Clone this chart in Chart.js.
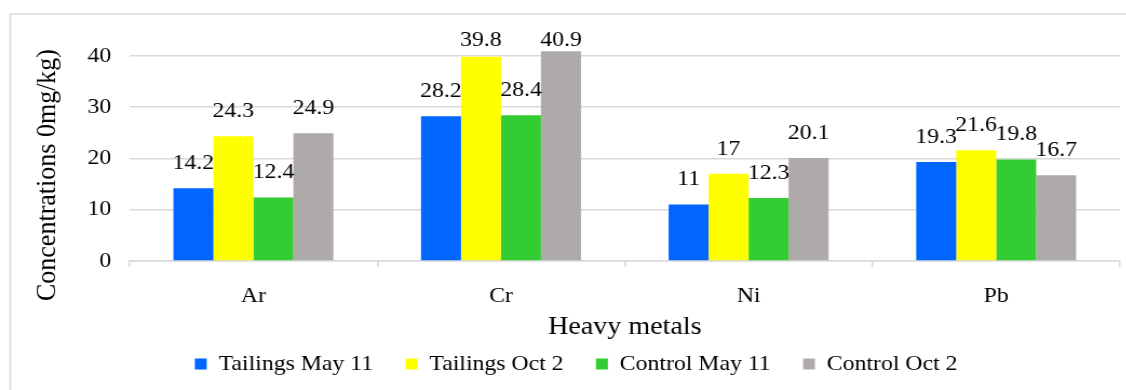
<!DOCTYPE html>
<html>
<head>
<meta charset="utf-8">
<script src="https://cdn.jsdelivr.net/npm/chart.js@4/dist/chart.umd.min.js"></script>
<style>
  html, body { margin: 0; padding: 0; background: #fff; overflow: hidden; }
  /* the drawing is laid out a little narrower and widened back to 1126px */
  #wrap { width: 1043px; height: 390px; transform: scaleX(1.08); transform-origin: 0 0; }
  canvas { display: block; }
</style>
</head>
<body>
<div id="wrap"><canvas id="chart" width="1043" height="390"></canvas></div>
<script>
// Heavy metal concentrations (mg/kg) at tailings and control sites
const metals = ['Ar', 'Cr', 'Ni', 'Pb'];
const tailingsMay11 = [14.2, 28.2, 11, 19.3];
const tailingsOct2 = [24.3, 39.8, 17, 21.6];
const controlMay11 = [12.4, 28.4, 12.3, 19.8];
const controlOct2 = [24.9, 40.9, 20.1, 16.7];
const yTicks = [0, 10, 20, 30, 40];
const seriesNames = ['Tailings May 11', 'Tailings Oct 2', 'Control May 11', 'Control Oct 2'];
const yTitle = 'Concentrations 0mg/kg)';
const xTitle = 'Heavy metals';

const seriesColors = ['#0066FF', '#FFFF00', '#33CC33', '#AEAAAA'];
const SERIF = '"Liberation Serif", "Times New Roman", serif';
const GRID = '#D9D9D9';

// white page with the light grey frame around the figure
const frame = {
  id: 'frame',
  beforeDraw(chart) {
    const ctx = chart.ctx;
    ctx.save();
    ctx.fillStyle = '#fff';
    ctx.fillRect(0, 0, chart.width, chart.height);
    ctx.strokeStyle = GRID;
    ctx.lineWidth = 1.5;
    ctx.strokeRect(9.5, 14, 1100, 500);
    ctx.restore();
  }
};

// value written above every bar
const valueLabels = {
  id: 'valueLabels',
  afterDatasetsDraw(chart) {
    const ctx = chart.ctx;
    ctx.save();
    ctx.font = '22px ' + SERIF;
    ctx.fillStyle = '#000';
    ctx.textAlign = 'center';
    ctx.textBaseline = 'middle';
    chart.data.datasets.forEach((ds, i) => {
      chart.getDatasetMeta(i).data.forEach((bar, j) => {
        const y = Math.max(bar.y - 25, 40);
        ctx.fillText(String(ds.data[j]), bar.x, y);
      });
    });
    ctx.restore();
  }
};

// axis titles
const axisTitles = {
  id: 'axisTitles',
  afterDraw(chart) {
    const ctx = chart.ctx;
    const a = chart.chartArea;
    ctx.save();
    ctx.fillStyle = '#000';
    ctx.textAlign = 'center';
    ctx.textBaseline = 'middle';
    ctx.font = '26px ' + SERIF;
    ctx.fillText(xTitle, (a.left + a.right) / 2, 327);
    ctx.translate(44, 175);
    ctx.rotate(-Math.PI / 2);
    ctx.fillText(yTitle, 0, 0);
    ctx.restore();
  }
};

const seriesData = [tailingsMay11, tailingsOct2, controlMay11, controlOct2];

new Chart(document.getElementById('chart'), {
  type: 'bar',
  data: {
    labels: metals,
    datasets: seriesData.map((values, i) => ({
      label: seriesNames[i],
      data: values,
      backgroundColor: seriesColors[i],
      borderWidth: 0,
      barPercentage: 1,
      categoryPercentage: 0.646
    }))
  },
  options: {
    responsive: false,
    devicePixelRatio: 1,
    animation: false,
    layout: { padding: { left: 30, right: 6, top: 27, bottom: 5 } },
    plugins: {
      legend: {
        position: 'bottom',
        labels: {
          boxWidth: 11,
          boxHeight: 11,
          padding: 30,
          color: '#000',
          font: { family: SERIF, size: 22 }
        }
      },
      tooltip: { enabled: false }
    },
    scales: {
      x: {
        grid: { display: true, drawOnChartArea: false, drawTicks: true, tickLength: 6, color: GRID, lineWidth: 1.5 },
        border: { display: true, color: GRID, width: 1.5 },
        ticks: { color: '#000', font: { family: SERIF, size: 22 }, padding: 16 },
        afterFit(scale) { scale.height = 62; }
      },
      y: {
        min: 0,
        max: 45,
        afterBuildTicks(scale) { scale.ticks = yTicks.map(v => ({ value: v })); },
        grid: { color: GRID, lineWidth: 1.5, drawTicks: false },
        border: { display: false },
        ticks: { color: '#000', font: { family: SERIF, size: 22 }, padding: 17 },
        afterFit(scale) { scale.width = 90; }
      }
    }
  },
  plugins: [frame, valueLabels, axisTitles]
});
</script>
</body>
</html>
